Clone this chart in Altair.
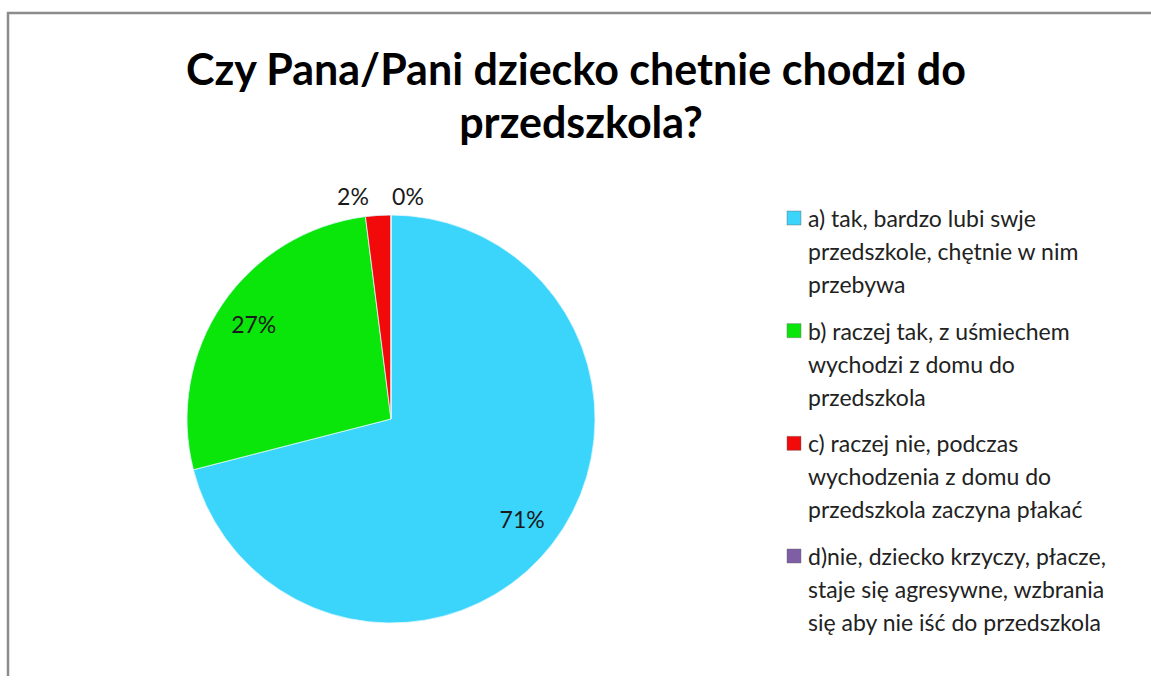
import altair as alt
import pandas as pd

# ---- data ----
categories = ["a", "b", "c", "d"]
values = [71, 27, 2, 0]
pct_labels = ["71%", "27%", "2%", "0%"]
legend_labels = [
    "a) tak, bardzo lubi swje\nprzedszkole, chętnie w nim\nprzebywa",
    "b) raczej tak, z uśmiechem\nwychodzi z domu do\nprzedszkola",
    "c) raczej nie, podczas\nwychodzenia z domu do\nprzedszkola zaczyna płakać",
    "d)nie, dziecko krzyczy, płacze,\nstaje się agresywne, wzbrania\nsię aby nie iść do przedszkola",
]
colors = ["#3BD4FB", "#0AE60A", "#F20A0A", "#7E5FA6"]
title_lines = ["Czy Pana/Pani dziecko chetnie chodzi do", "przedszkola?"]

df = pd.DataFrame({
    "cat": categories,
    "value": values,
    "pct": pct_labels,
    "legend": legend_labels,
    "order": list(range(len(categories))),
})

FONT = "Lato"
color_scale = alt.Scale(domain=categories, range=colors)
cx, cy, R = 391, 419, 204

base = alt.Chart(df)
one = alt.Chart(pd.DataFrame({"k": [0]}))

frame_top = one.mark_rule(stroke="#8c8c8c", strokeWidth=2.5).encode(
    x=alt.value(7), x2=alt.value(1151), y=alt.value(13)
)
frame_left = one.mark_rule(stroke="#8c8c8c", strokeWidth=2.5).encode(
    x=alt.value(8), y=alt.value(12), y2=alt.value(680)
)

pie = base.mark_arc(radius=R, stroke="#dff7ff", strokeWidth=0.8).encode(
    theta=alt.Theta("value:Q", stack=True),
    color=alt.Color("cat:N", scale=color_scale, legend=None),
    order=alt.Order("order:Q"),
    x=alt.value(cx),
    y=alt.value(cy),
)

inner_labels = base.transform_filter("datum.value >= 5").mark_text(
    radius=166, font=FONT, fontSize=23, color="#1a1a1a"
).encode(
    theta=alt.Theta("value:Q", stack=True),
    order=alt.Order("order:Q"),
    text="pct:N",
    x=alt.value(cx),
    y=alt.value(cy),
)

lab2 = base.transform_filter("datum.cat == 'c'").mark_text(
    font=FONT, fontSize=23, color="#1a1a1a", dx=-38, dy=-221
).encode(text="pct:N", x=alt.value(cx), y=alt.value(cy))

lab0 = base.transform_filter("datum.cat == 'd'").mark_text(
    font=FONT, fontSize=23, color="#1a1a1a", dx=17, dy=-221
).encode(text="pct:N", x=alt.value(cx), y=alt.value(cy))

leg_y = alt.Y("cat:N", scale=alt.Scale(type="point", domain=categories, range=[218, 556], padding=0), axis=None)

leg_sq = base.mark_square(size=196, opacity=1, stroke="#5a5a5a", strokeWidth=0.4).encode(
    x=alt.value(794),
    y=leg_y,
    color=alt.Color("cat:N", scale=color_scale, legend=None),
)

leg_txt = base.transform_calculate(lines="split(datum.legend, '\\n')").mark_text(
    align="left", baseline="alphabetic", dy=9, lineHeight=33,
    font=FONT, fontSize=23, color="#222222"
).encode(x=alt.value(808), y=leg_y, text="lines:N")

t1 = alt.Chart(pd.DataFrame({"t": [title_lines[0]]})).mark_text(
    font=FONT, fontSize=43, fontWeight="bold", color="#000000", align="center", baseline="alphabetic"
).encode(text="t:N", x=alt.value(576), y=alt.value(85))
t2 = alt.Chart(pd.DataFrame({"t": [title_lines[1]]})).mark_text(
    font=FONT, fontSize=43, fontWeight="bold", color="#000000", align="center", baseline="alphabetic"
).encode(text="t:N", x=alt.value(581), y=alt.value(138))

chart = alt.layer(frame_top, frame_left, pie, inner_labels, lab2, lab0, leg_sq, leg_txt, t1, t2).properties(
    width=1151, height=676, padding=0, autosize=alt.AutoSizeParams(type="none"),
    background="#ffffff"
).configure_view(stroke="transparent", strokeWidth=0).configure_axis(domain=False, ticks=False, grid=False)

chart.save("out.html", embed_options={"renderer": "svg", "actions": False})
